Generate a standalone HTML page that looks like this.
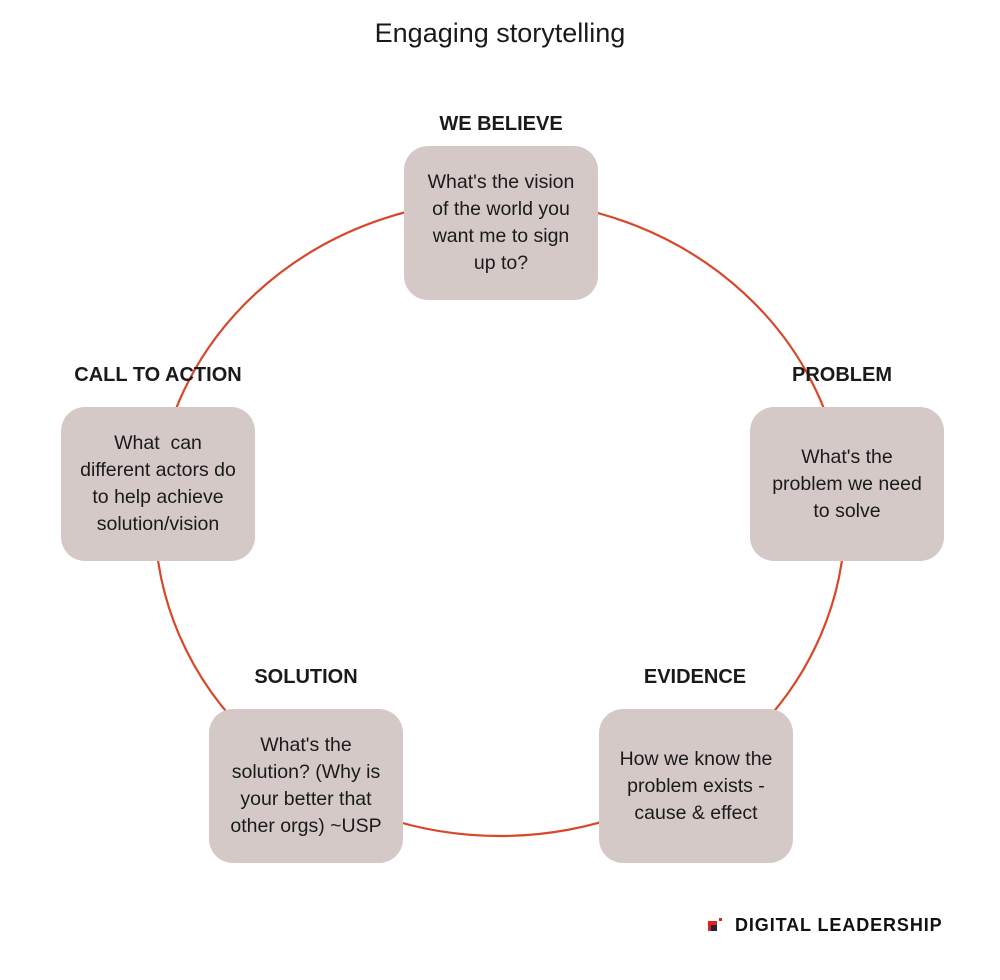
<!DOCTYPE html>
<html><head><style>
body{margin:0;width:1000px;height:980px;background:#fff;position:relative;font-family:"Liberation Sans",sans-serif;color:#1a1a1a;overflow:hidden}
.t{position:absolute;left:0;width:1000px;top:18px;text-align:center;font-size:27px}
.lab{position:absolute;font-weight:bold;font-size:20px;text-align:center;width:260px}
.box{position:absolute;width:194px;height:154px;background:#d5c9c8;border-radius:24px;display:flex;align-items:center;justify-content:center;text-align:center;font-size:19.5px;line-height:27px;white-space:nowrap}
</style></head><body>
<svg width="1000" height="980" style="position:absolute;left:0;top:0"><ellipse cx="500" cy="518" rx="345" ry="318" fill="none" stroke="#d9472b" stroke-width="2.2"/></svg>
<div class="t">Engaging storytelling</div>
<div class="lab" style="left:371px;top:113px">WE BELIEVE</div>
<div class="box" style="left:404px;top:146px">What's the vision<br>of the world you<br>want me to sign<br>up to?</div>
<div class="lab" style="left:712px;top:364px">PROBLEM</div>
<div class="box" style="left:750px;top:407px">What's the<br>problem we need<br>to solve</div>
<div class="lab" style="left:28px;top:364px">CALL TO ACTION</div>
<div class="box" style="left:61px;top:407px">What&nbsp; can<br>different actors do<br>to help achieve<br>solution/vision</div>
<div class="lab" style="left:176px;top:666px">SOLUTION</div>
<div class="box" style="left:209px;top:709px">What's the<br>solution? (Why is<br>your better that<br>other orgs) ~USP</div>
<div class="lab" style="left:565px;top:666px">EVIDENCE</div>
<div class="box" style="left:599px;top:709px">How we know the<br>problem exists -<br>cause &amp; effect</div>
<div style="position:absolute;left:708px;top:918px;width:14px;height:14px">
<div style="position:absolute;left:0;top:3px;width:9px;height:10px;background:#d22"></div>
<div style="position:absolute;left:3px;top:7px;width:6px;height:6px;background:#223"></div>
<div style="position:absolute;left:11px;top:0;width:3px;height:3px;background:#d22"></div>
</div>
<div style="position:absolute;left:735px;top:915px;font-size:18px;font-weight:bold;letter-spacing:0.9px;color:#111">DIGITAL LEADERSHIP</div>
</body></html>
